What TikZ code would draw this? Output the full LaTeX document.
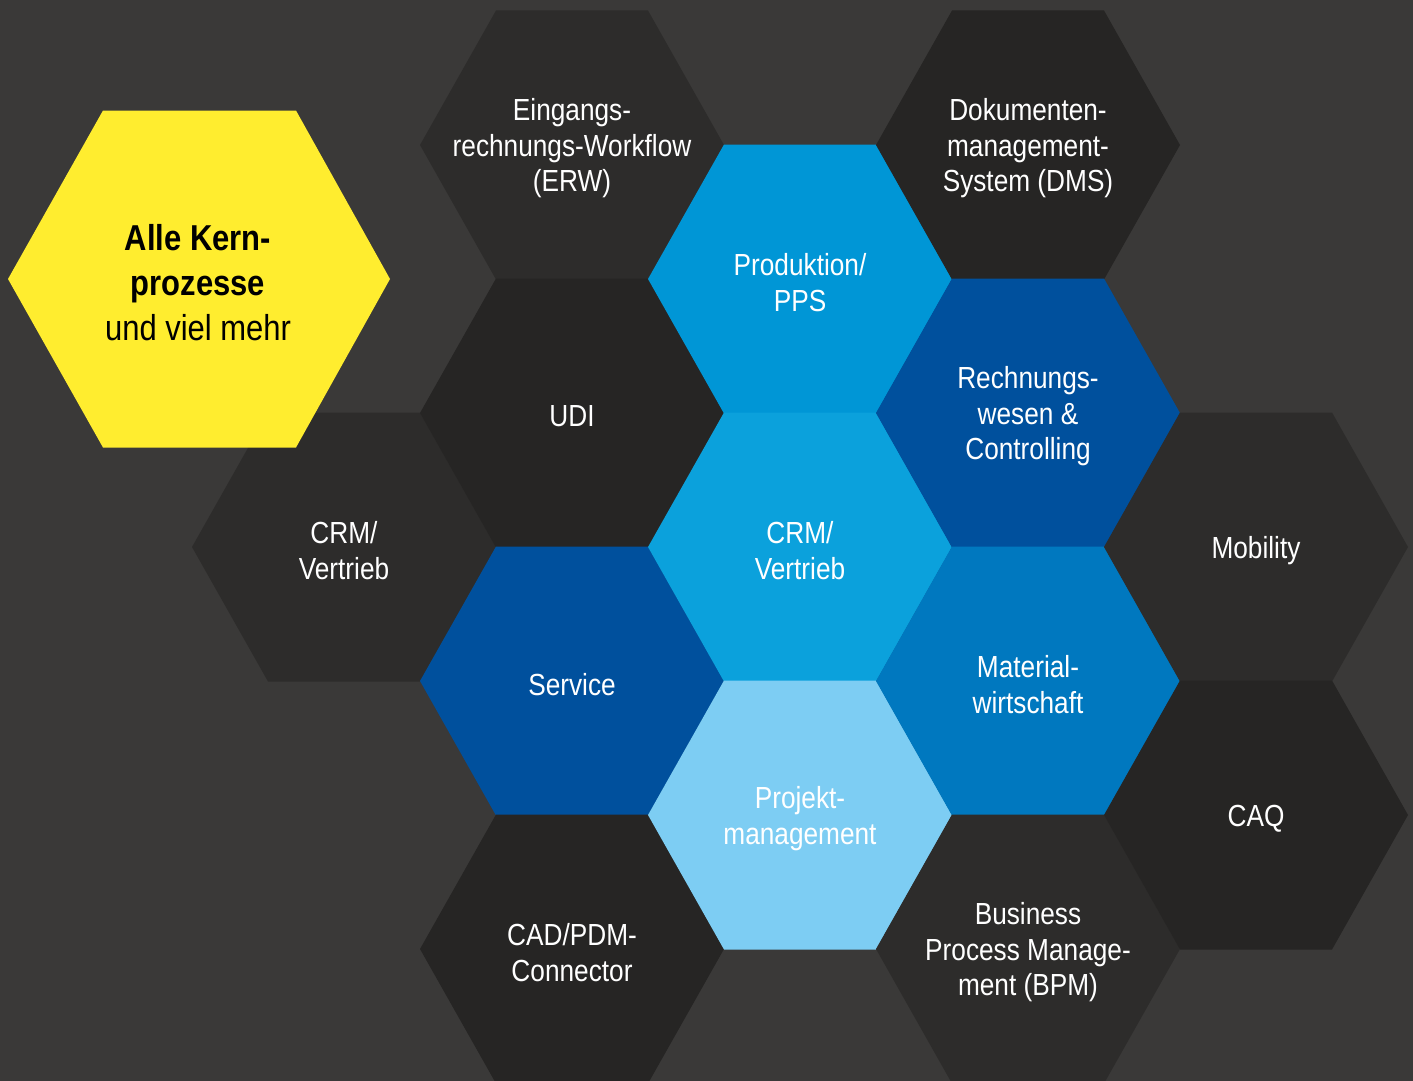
\documentclass[tikz,border=0pt]{standalone}
\usepackage{fontspec}
\setmainfont[FakeStretch=0.86]{Liberation Sans}
\definecolor{bg}{HTML}{3A3938}
\definecolor{darkA}{HTML}{2D2C2B}
\definecolor{darkB}{HTML}{262524}
\definecolor{hyellow}{HTML}{FFED2F}
\definecolor{blueP}{HTML}{0096D6}
\definecolor{blueD}{HTML}{00509D}
\definecolor{blueC}{HTML}{0BA1DC}
\definecolor{blueM}{HTML}{0078BF}
\definecolor{blueL}{HTML}{7DCDF3}
\tikzset{
  lbl/.style={align=center, text=white, inner sep=0pt, font=\fontsize{30.5}{35.5}\selectfont},
  biglbl/.style={align=center, text=black, inner sep=0pt, font=\fontsize{36}{45}\selectfont},
}
\newcommand\hexcell[5]{%
  \fill[#3, shift={(#1,#2)}] (-152,0) -- (-76,-134.5) -- (76,-134.5) -- (152,0) -- (76,134.5) -- (-76,134.5) -- cycle;
  \node[lbl] (#4) at (#1,#2+3.5) {#5};}
\begin{document}
\begin{tikzpicture}[x=1pt,y=-1pt]
\fill[bg] (0,0) rectangle (1413,1081);
\useasboundingbox (0,0) rectangle (1413,1081);
% column 344
\hexcell{344}{547}{darkA}{crmL}{CRM/\\Vertrieb}
% column 572
\hexcell{572}{145}{darkA}{erw}{Eingangs-\\rechnungs-Workflow\\(ERW)}
\hexcell{572}{413}{darkB}{udi}{UDI}
\hexcell{572}{681}{blueD}{service}{Service}
\hexcell{572}{949}{darkB}{cad}{CAD/PDM-\\Connector}
% column 800
\hexcell{800}{279}{blueP}{prod}{Produktion/\\PPS}
\hexcell{800}{547}{blueC}{crmC}{CRM/\\Vertrieb}
\hexcell{800}{815}{blueL}{projekt}{Projekt-\\management}
% column 1028
\hexcell{1028}{145}{darkB}{dms}{Dokumenten-\\management-\\System (DMS)}
\hexcell{1028}{413}{blueD}{rw}{Rechnungs-\\wesen \&\\Controlling}
\hexcell{1028}{681}{blueM}{mat}{Material-\\wirtschaft}
\hexcell{1028}{949}{darkA}{bpm}{Business\\Process Manage-\\ment (BPM)}
% column 1256
\hexcell{1256}{547}{darkA}{mob}{Mobility}
\hexcell{1256}{815}{darkB}{caq}{CAQ}
% yellow (on top)
\fill[hyellow, shift={(199,279)}] (-191,0) -- (-96,-168.5) -- (97,-168.5) -- (191,0) -- (97,168.5) -- (-96,168.5) -- cycle;
\node[biglbl] (kern) at (198,283) {\textbf{Alle Kern-}\\\textbf{prozesse}\\und viel mehr};
\end{tikzpicture}
\end{document}
